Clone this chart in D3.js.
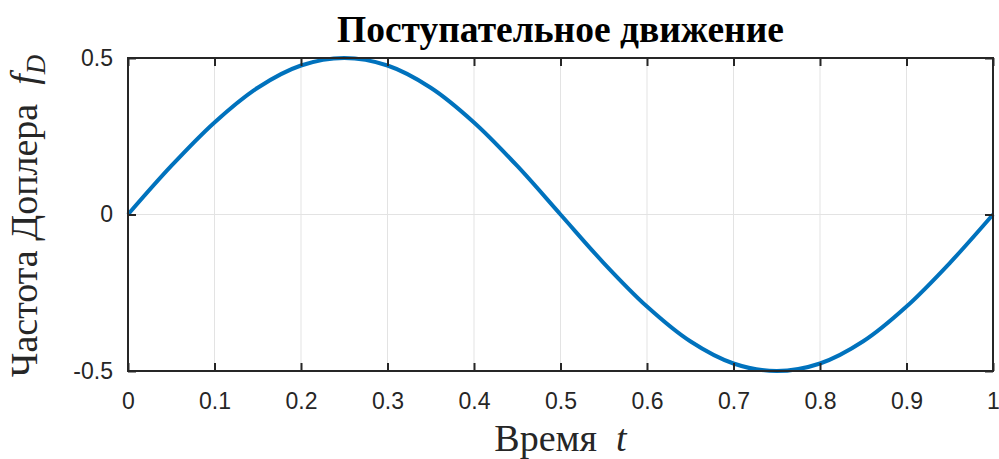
<!DOCTYPE html>
<html>
<head>
<meta charset="utf-8">
<script src="https://cdn.jsdelivr.net/npm/d3@7"></script>
<style>
  body { margin: 0; background: #fff; }
  svg { display: block; }
</style>
</head>
<body>
<div id="chart"></div>
<script>
  // Время t и частота Доплера
  const times = [0, 0.05, 0.1, 0.15, 0.2, 0.25, 0.3, 0.35, 0.4, 0.45, 0.5,
                 0.55, 0.6, 0.65, 0.7, 0.75, 0.8, 0.85, 0.9, 0.95, 1];
  const doppler = [0, 0.155, 0.294, 0.405, 0.476, 0.5, 0.476, 0.405, 0.294, 0.155, 0,
                   -0.155, -0.294, -0.405, -0.476, -0.5, -0.476, -0.405, -0.294, -0.155, 0];
  const xTicks = [0, 0.1, 0.2, 0.3, 0.4, 0.5, 0.6, 0.7, 0.8, 0.9, 1];
  const yTicks = [-0.5, 0, 0.5];

  const W = 999, H = 459;
  const margin = { top: 58, right: 6, bottom: 88, left: 128 };
  const width = W - margin.left - margin.right;
  const height = H - margin.top - margin.bottom;

  const svg = d3.select("#chart")
    .append("svg")
    .attr("width", W)
    .attr("height", H);

  const g = svg.append("g")
    .attr("transform", `translate(${margin.left},${margin.top})`);

  const x = d3.scaleLinear().domain([0, 1]).range([0, width]);
  const y = d3.scaleLinear().domain([-0.5, 0.5]).range([height, 0]);

  // Сетка
  g.append("g")
    .selectAll("line")
    .data(xTicks)
    .enter()
    .append("line")
    .attr("x1", d => x(d)).attr("x2", d => x(d))
    .attr("y1", 0).attr("y2", height)
    .attr("stroke", "#e3e3e3")
    .attr("stroke-width", 1);

  g.append("g")
    .selectAll("line")
    .data(yTicks)
    .enter()
    .append("line")
    .attr("x1", 0).attr("x2", width)
    .attr("y1", d => y(d)).attr("y2", d => y(d))
    .attr("stroke", "#e3e3e3")
    .attr("stroke-width", 1);

  // Кривая
  const line = d3.line()
    .x((d, i) => x(times[i]))
    .y(d => y(d))
    .curve(d3.curveCatmullRom);

  g.append("path")
    .datum(doppler)
    .attr("d", line)
    .attr("fill", "none")
    .attr("stroke", "#0072bd")
    .attr("stroke-width", 4);

  // Оси (тики внутрь)
  const fmt = d => String(d); // дефис вместо знака минус, как в MATLAB
  const styleAxis = sel => {
    sel.select(".domain").remove();
    sel.selectAll("line").attr("stroke", "#262626").attr("stroke-width", 2);
    sel.selectAll("text")
      .attr("font-family", "'Liberation Sans', Arial, sans-serif")
      .attr("font-size", 23)
      .attr("fill", "#262626");
  };

  g.append("g")
    .attr("transform", `translate(0,${height})`)
    .call(d3.axisBottom(x).tickValues(xTicks).tickFormat(fmt).tickSizeInner(-8).tickPadding(22))
    .call(styleAxis);

  g.append("g")
    .call(d3.axisTop(x).tickValues(xTicks).tickFormat("").tickSizeInner(-8))
    .call(styleAxis);

  g.append("g")
    .call(d3.axisLeft(y).tickValues(yTicks).tickFormat(fmt).tickSizeInner(-8).tickPadding(15))
    .call(styleAxis);

  g.append("g")
    .attr("transform", `translate(${width},0)`)
    .call(d3.axisRight(y).tickValues(yTicks).tickFormat("").tickSizeInner(-8))
    .call(styleAxis);

  // Рамка
  g.append("rect")
    .attr("width", width)
    .attr("height", height)
    .attr("fill", "none")
    .attr("stroke", "#262626")
    .attr("stroke-width", 2);

  const serif = "'Liberation Serif', 'Times New Roman', serif";

  // Заголовок
  svg.append("text")
    .attr("x", margin.left + width / 2)
    .attr("y", 42)
    .attr("text-anchor", "middle")
    .style("font-family", serif)
    .style("font-weight", "bold")
    .style("font-size", "37.5px")
    .text("Поступательное движение");

  // Подпись оси X
  const xl = svg.append("text")
    .attr("x", margin.left + width / 2)
    .attr("y", 451)
    .attr("text-anchor", "middle")
    .style("font-family", serif)
    .style("font-size", "38px")
    .style("fill", "#262626");
  xl.append("tspan").text("Время\u2002");
  xl.append("tspan").style("font-style", "italic").text("t");

  // Подпись оси Y
  const yl = svg.append("text")
    .attr("transform", "translate(37,216) rotate(-90)")
    .attr("text-anchor", "middle")
    .style("font-family", serif)
    .style("font-size", "38px")
    .style("fill", "#262626");
  yl.append("tspan").text("Частота Доплера\u2002");
  yl.append("tspan").style("font-style", "italic").text("f");
  yl.append("tspan").style("font-style", "italic").style("font-size", "27px").attr("dy", 8).text("D");
</script>
</body>
</html>
